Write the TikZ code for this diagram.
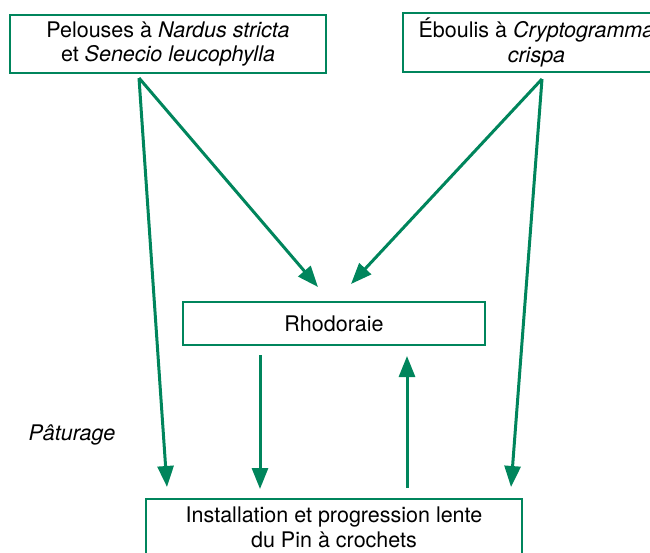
\documentclass[tikz,border=0pt]{standalone}
\usepackage{fontspec}
\setmainfont{TeX Gyre Heros}
\usetikzlibrary{arrows.meta}
\definecolor{vert}{RGB}{0,133,92}
\begin{document}
\begin{tikzpicture}[x=1pt,y=-1pt,
  boite/.style={draw=vert,line width=2pt,fill=white,inner sep=0pt,align=center,
    font=\fontsize{21.5}{24.5}\selectfont},
  fleche/.style={draw=vert,line width=3pt,-{Triangle[length=21pt,width=16pt]}}]
\useasboundingbox (0,0) rectangle (650,552);
\begin{scope}
\clip (0,0) rectangle (650,552);
\node[boite,minimum width=316pt,minimum height=58pt] (pel) at (168,44)
  {Pelouses à \textit{Nardus stricta}\\et \textit{Senecio leucophylla}};
\node[boite,minimum width=267pt,minimum height=59pt] (ebo) at (536.5,42.5)
  {Éboulis à \textit{Cryptogramma}\\\textit{crispa}};
\node[boite,minimum width=302pt,minimum height=43pt] (rho) at (334,323.5) {Rhodoraie};
\node[boite,minimum width=376pt,anchor=north,inner ysep=8pt] (pin) at (334,498)
  {Installation et progression lente\\du Pin à crochets\\[14pt]};
\node[font=\fontsize{21.5}{24.5}\selectfont\itshape] (pat) at (72,435) {Pâturage};
\coordinate (s1) at (139,78);
\coordinate (s2) at (542,79);
\coordinate (t1) at (318,287);
\coordinate (t2) at (167,487);
\coordinate (t3) at (351,284);
\coordinate (t4) at (511,487);
\coordinate (d0) at (260,355);
\coordinate (d1) at (260,489);
\coordinate (u0) at (407,488);
\coordinate (u1) at (407,356);
\draw[fleche] (s1) -- (t1);
\draw[fleche] (s1) -- (t2);
\draw[fleche] (s2) -- (t3);
\draw[fleche] (s2) -- (t4);
\draw[fleche] (d0) -- (d1);
\draw[fleche] (u0) -- (u1);
\end{scope}
\end{tikzpicture}
\end{document}
